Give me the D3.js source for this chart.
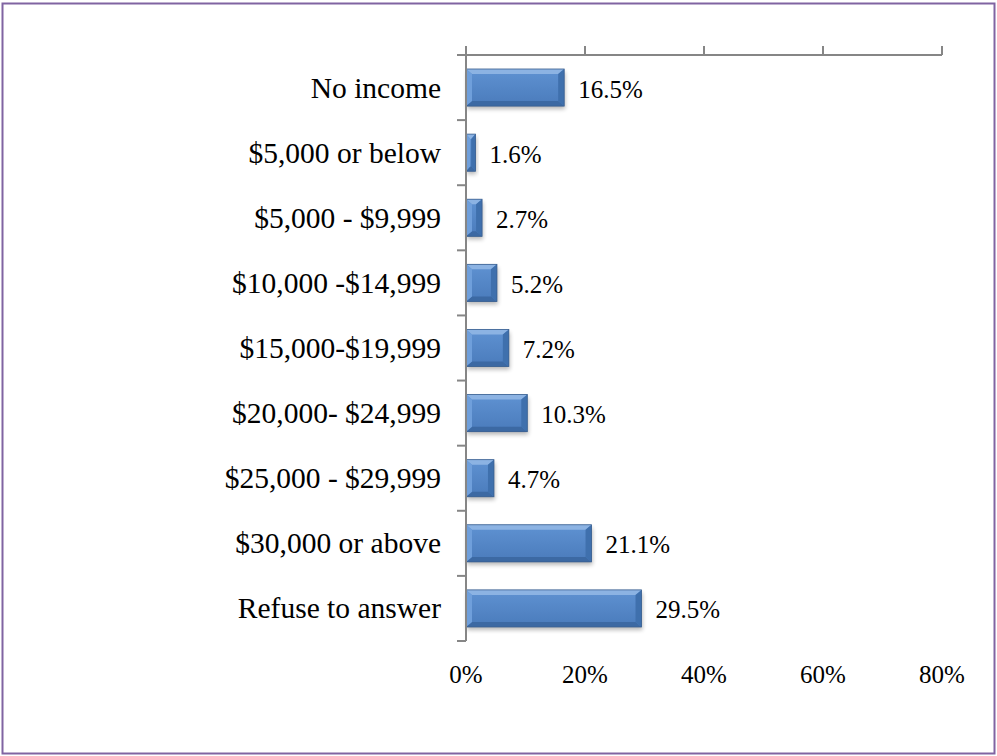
<!DOCTYPE html>
<html>
<head>
<meta charset="utf-8">
<script src="https://cdn.jsdelivr.net/npm/d3@7"></script>
<style>
  html, body { margin: 0; padding: 0; background: #fff; }
  svg { display: block; }
</style>
</head>
<body>
<svg id="chart" width="997" height="756"></svg>
<script>
// Household income distribution
const categories = [
  "No income",
  "$5,000 or below",
  "$5,000 - $9,999",
  "$10,000 -$14,999",
  "$15,000-$19,999",
  "$20,000- $24,999",
  "$25,000 - $29,999",
  "$30,000 or above",
  "Refuse to answer"
];
const values = [16.5, 1.6, 2.7, 5.2, 7.2, 10.3, 4.7, 21.1, 29.5];
const tickValues = [0, 20, 40, 60, 80];
const tickLabels = ["0%", "20%", "40%", "60%", "80%"];

const svg = d3.select("#chart");
const font = "'Liberation Serif', 'Times New Roman', serif";
const axisColor = "#868686";
const catSize = 29.5, numSize = 25;

// frame
svg.append("rect")
  .attr("x", 2.5).attr("y", 3.5)
  .attr("width", 992).attr("height", 750)
  .attr("fill", "#fff")
  .attr("stroke", "#8064A2").attr("stroke-width", 2);

const x = d3.scaleLinear().domain([0, 80]).range([466, 942]);
const y = d3.scaleBand().domain(categories).range([55, 641])
  .paddingInner(0.43).paddingOuter(0.215);

const defs = svg.append("defs");
const grad = defs.append("linearGradient").attr("id", "barFace")
  .attr("x1", 0).attr("y1", 0).attr("x2", 0).attr("y2", 1);
grad.append("stop").attr("offset", "0%").attr("stop-color", "#5f92d2");
grad.append("stop").attr("offset", "100%").attr("stop-color", "#4a7bbb");
const shadow = defs.append("filter").attr("id", "shadow")
  .attr("x", "-20%").attr("y", "-30%").attr("width", "140%").attr("height", "180%");
shadow.append("feGaussianBlur").attr("stdDeviation", 2);

const data = categories.map((c, i) => ({ c, v: values[i] }));

const bars = svg.append("g").selectAll("g").data(data).join("g");

// soft shadow beneath each bar
bars.append("rect")
  .attr("x", x(0) + 1)
  .attr("y", d => y(d.c) + 3)
  .attr("width", d => x(d.v) - x(0))
  .attr("height", y.bandwidth())
  .attr("fill", "#000").attr("opacity", 0.28)
  .attr("filter", "url(#shadow)");

// bevelled bar
bars.each(function(d) {
  const g = d3.select(this);
  const x0 = x(0), x1 = x(d.v), y0 = y(d.c), y1 = y0 + y.bandwidth();
  const w = x1 - x0;
  const b = Math.min(6, w / 2.2);
  const ix0 = x0 + b, ix1 = x1 - b, iy0 = y0 + 5, iy1 = y1 - 5;
  g.append("rect").attr("x", x0).attr("y", y0).attr("width", w).attr("height", y1 - y0)
    .attr("fill", "url(#barFace)");
  const poly = (pts, fill) => g.append("polygon")
    .attr("points", pts.map(p => p.join(",")).join(" ")).attr("fill", fill);
  poly([[x0, y0], [x1, y0], [ix1, iy0], [ix0, iy0]], "#8cb3e3");
  poly([[x0, y1], [x1, y1], [ix1, iy1], [ix0, iy1]], "#3c69a3");
  poly([[x0, y0], [ix0, iy0], [ix0, iy1], [x0, y1]], "#6f9fdb");
  poly([[x1, y0], [ix1, iy0], [ix1, iy1], [x1, y1]], "#3f70ad");
  g.append("rect").attr("x", x0).attr("y", y0).attr("width", w).attr("height", y1 - y0)
    .attr("fill", "none").attr("stroke", "#3a5f8f").attr("stroke-width", 0.8);
});

// value labels
svg.append("g").selectAll("text").data(data).join("text")
  .attr("x", d => x(d.v) + 14)
  .attr("y", d => y(d.c) + y.bandwidth() / 2 + 10)
  .attr("font-family", font).attr("font-size", numSize).attr("fill", "#000")
  .text(d => d.v.toFixed(1) + "%");

// value axis along the top, ticks pointing up
const valueAxis = svg.append("g");
valueAxis.append("line").attr("x1", x(0) - 9).attr("x2", x(80)).attr("y1", 55).attr("y2", 55)
  .attr("stroke", axisColor).attr("stroke-width", 2);
valueAxis.selectAll("line.t").data(tickValues).join("line").attr("class", "t")
  .attr("x1", d => x(d)).attr("x2", d => x(d)).attr("y1", 55).attr("y2", 46)
  .attr("stroke", axisColor).attr("stroke-width", 2);

// category axis
const catAxis = svg.append("g");
catAxis.append("line").attr("x1", x(0)).attr("x2", x(0)).attr("y1", 46).attr("y2", 641)
  .attr("stroke", axisColor).attr("stroke-width", 2);
const step = y.step();
const bounds = categories.map(c => y(c) - step * y.paddingInner() / 2).concat([641]);
catAxis.selectAll("line.t").data(bounds).join("line").attr("class", "t")
  .attr("x1", x(0) - 9).attr("x2", x(0)).attr("y1", d => d).attr("y2", d => d)
  .attr("stroke", axisColor).attr("stroke-width", 2);
catAxis.selectAll("text").data(categories).join("text")
  .attr("x", 441)
  .attr("y", c => y(c) + y.bandwidth() / 2 + 10)
  .attr("text-anchor", "end")
  .attr("font-family", font).attr("font-size", catSize).attr("fill", "#000")
  .text(c => c);

// percentage labels below
svg.append("g").selectAll("text").data(tickValues).join("text")
  .attr("x", d => x(d)).attr("y", 683)
  .attr("text-anchor", "middle")
  .attr("font-family", font).attr("font-size", numSize).attr("fill", "#000")
  .text((d, i) => tickLabels[i]);
</script>
</body>
</html>
